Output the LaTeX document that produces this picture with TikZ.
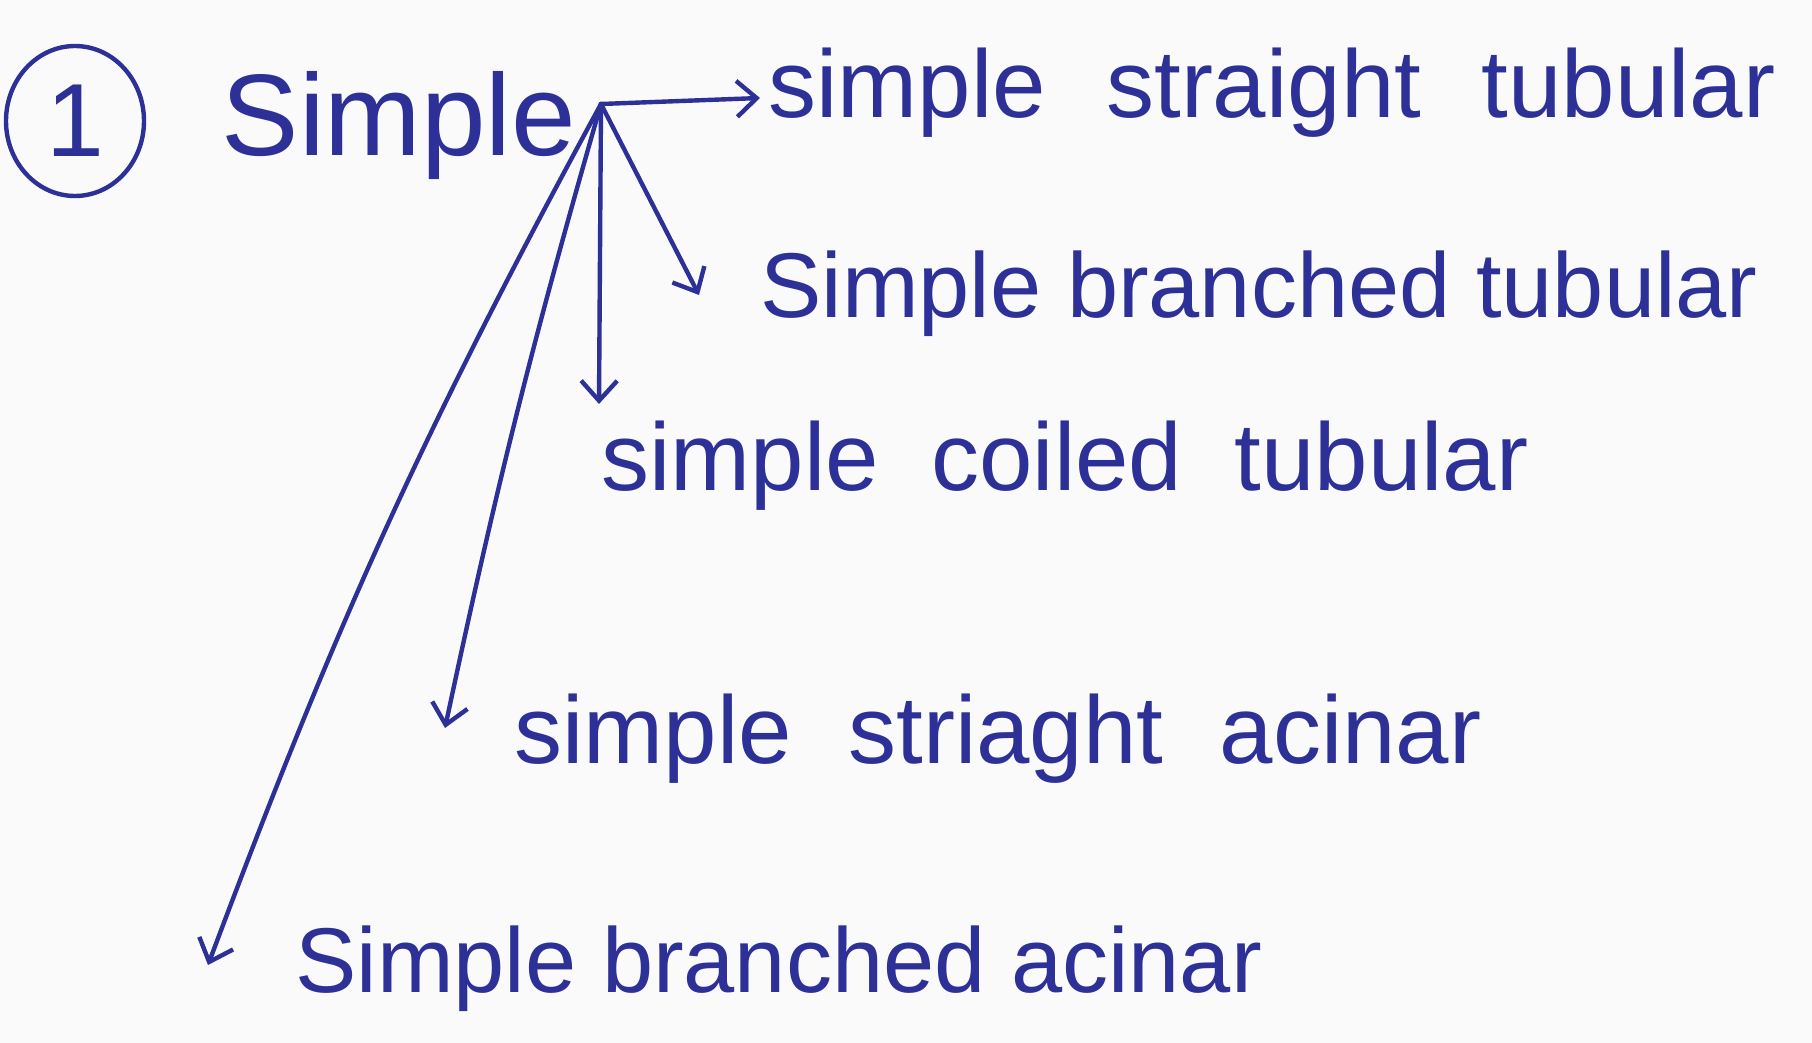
\documentclass[tikz,border=0pt]{standalone}
\usepackage{fontspec}
\setmainfont{Liberation Sans}
\usetikzlibrary{arrows.meta,shapes.geometric}
\definecolor{ink}{RGB}{45,48,150}
\definecolor{paper}{RGB}{250,250,250}
\tikzset{
  lbl/.style={anchor=base west, inner sep=0pt, text=ink, font=\fontsize{48}{56}\selectfont},
  lblsm/.style={lbl, font=\fontsize{46}{54}\selectfont},
  head/.style={anchor=base, inner sep=0pt, text=ink, font=\fontsize{58}{66}\selectfont},
  conn/.style={draw=ink, line width=2.2pt, line cap=round, -{Straight Barb[length=10pt,width=18pt,line width=2.2pt]}},
}
\begin{document}
\begin{tikzpicture}[x=0.5pt,y=-0.5pt]
\fill[paper] (0,0) rectangle (1812,1043);
\useasboundingbox (0,0) rectangle (1812,1043);
% number circle
\node[draw=ink, line width=2.2pt, ellipse, minimum width=69pt, minimum height=75pt, inner sep=0pt, text=ink, font=\fontsize{52}{60}\selectfont] (num) at (75,121) {1};
% head word
\node[head] (simple) at (399,156) {Simple};
\coordinate (hub) at (601,104);
% targets
\node[lbl] (t1) at (768,118) {simple\hspace{17pt} straight\hspace{17pt} tubular};
\node[lblsm] (t2) at (760,318) {Simple branched tubular};
\node[lbl] (t3) at (601,491) {simple\hspace{13pt} coiled\hspace{13pt} tubular};
\node[lbl] (t4) at (514,763) {simple\hspace{15pt} striaght\hspace{15pt} acinar};
\node[lblsm] (t5) at (295,992) {Simple branched acinar};
% arrow ends
\coordinate (a1) at (760,98);
\coordinate (a2) at (699,295);
\coordinate (a3) at (599,404);
\coordinate (a4) at (445,728);
\coordinate (a5) at (208,965);
% connectors
\draw[conn] (hub) -- (a1);
\draw[conn] (hub) -- (a2);
\draw[conn] (hub) -- (a3);
\draw[conn] (hub) to[bend right=2] (a4);
\draw[conn] (hub) to[bend right=4] (a5);
\end{tikzpicture}
\end{document}
